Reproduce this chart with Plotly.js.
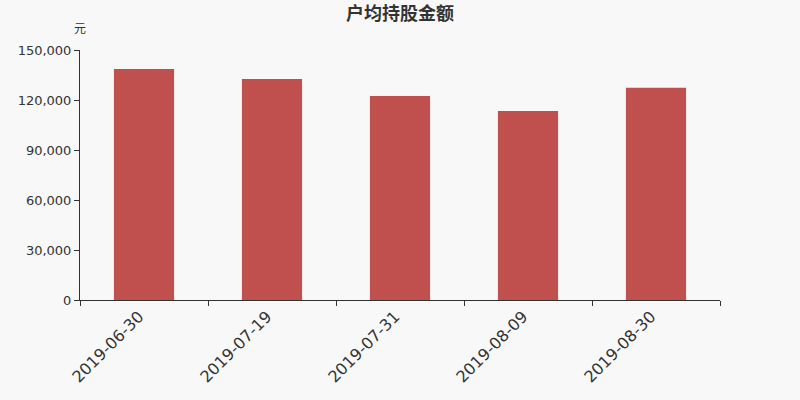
<!DOCTYPE html>
<html><head><meta charset="utf-8">
<script src="https://cdn.plot.ly/plotly-3.0.1.min.js"></script>
<style>html,body{margin:0;padding:0;background:#f8f8f8;}</style>
</head><body>
<div id="chart" style="width:800px;height:400px;"></div>
<script>
var categories = ["2019-06-30","2019-07-19","2019-07-31","2019-08-09","2019-08-30"];
var values = [138600, 132600, 122400, 113400, 127400];
var yTickVals = [0, 30000, 60000, 90000, 120000, 150000];
var yTickText = ["0","30,000","60,000","90,000","120,000","150,000"];

var trace = {
  type: "bar",
  x: categories,
  y: values,
  marker: {color: "#c0504e"},
  width: 0.47,
  hoverinfo: "x+y"
};
var layout = {
  width: 800, height: 400,
  paper_bgcolor: "#f8f8f8", plot_bgcolor: "#f8f8f8",
  margin: {l: 80, r: 80, t: 50, b: 100},
  title: {text: "户均持股金额", x: 0.5, xanchor: "center", y: 0.965, yanchor: "middle",
    font: {family: "Noto Sans CJK SC, sans-serif", size: 18, color: "#333", weight: "bold"}},
  showlegend: false,
  xaxis: {
    type: "category",
    tickson: "boundaries",
    ticks: "outside", ticklen: 5, tickcolor: "#333",
    showline: true, linecolor: "#333", linewidth: 1,
    showgrid: false, zeroline: false,
    tickangle: -45,
    ticklabelshift: -5,
    tickfont: {family: "DejaVu Sans, sans-serif", size: 16, color: "#333"},
    range: [-0.5, 4.5]
  },
  yaxis: {
    range: [0, 150000],
    tickvals: yTickVals, ticktext: yTickText,
    ticks: "outside", ticklen: 5, tickcolor: "#333",
    showline: true, linecolor: "#333", linewidth: 1,
    showgrid: false, zeroline: false,
    tickfont: {family: "DejaVu Sans, sans-serif", size: 13, color: "#333"}
  },
  annotations: [{
    text: "元", xref: "paper", yref: "paper", x: 0, y: 1.09,
    xanchor: "center", yanchor: "middle", showarrow: false,
    font: {family: "Noto Sans CJK SC, sans-serif", size: 12, color: "#333"}
  }]
};
Plotly.newPlot("chart", [trace], layout, {displayModeBar: false, staticPlot: true});
</script>
</body></html>
